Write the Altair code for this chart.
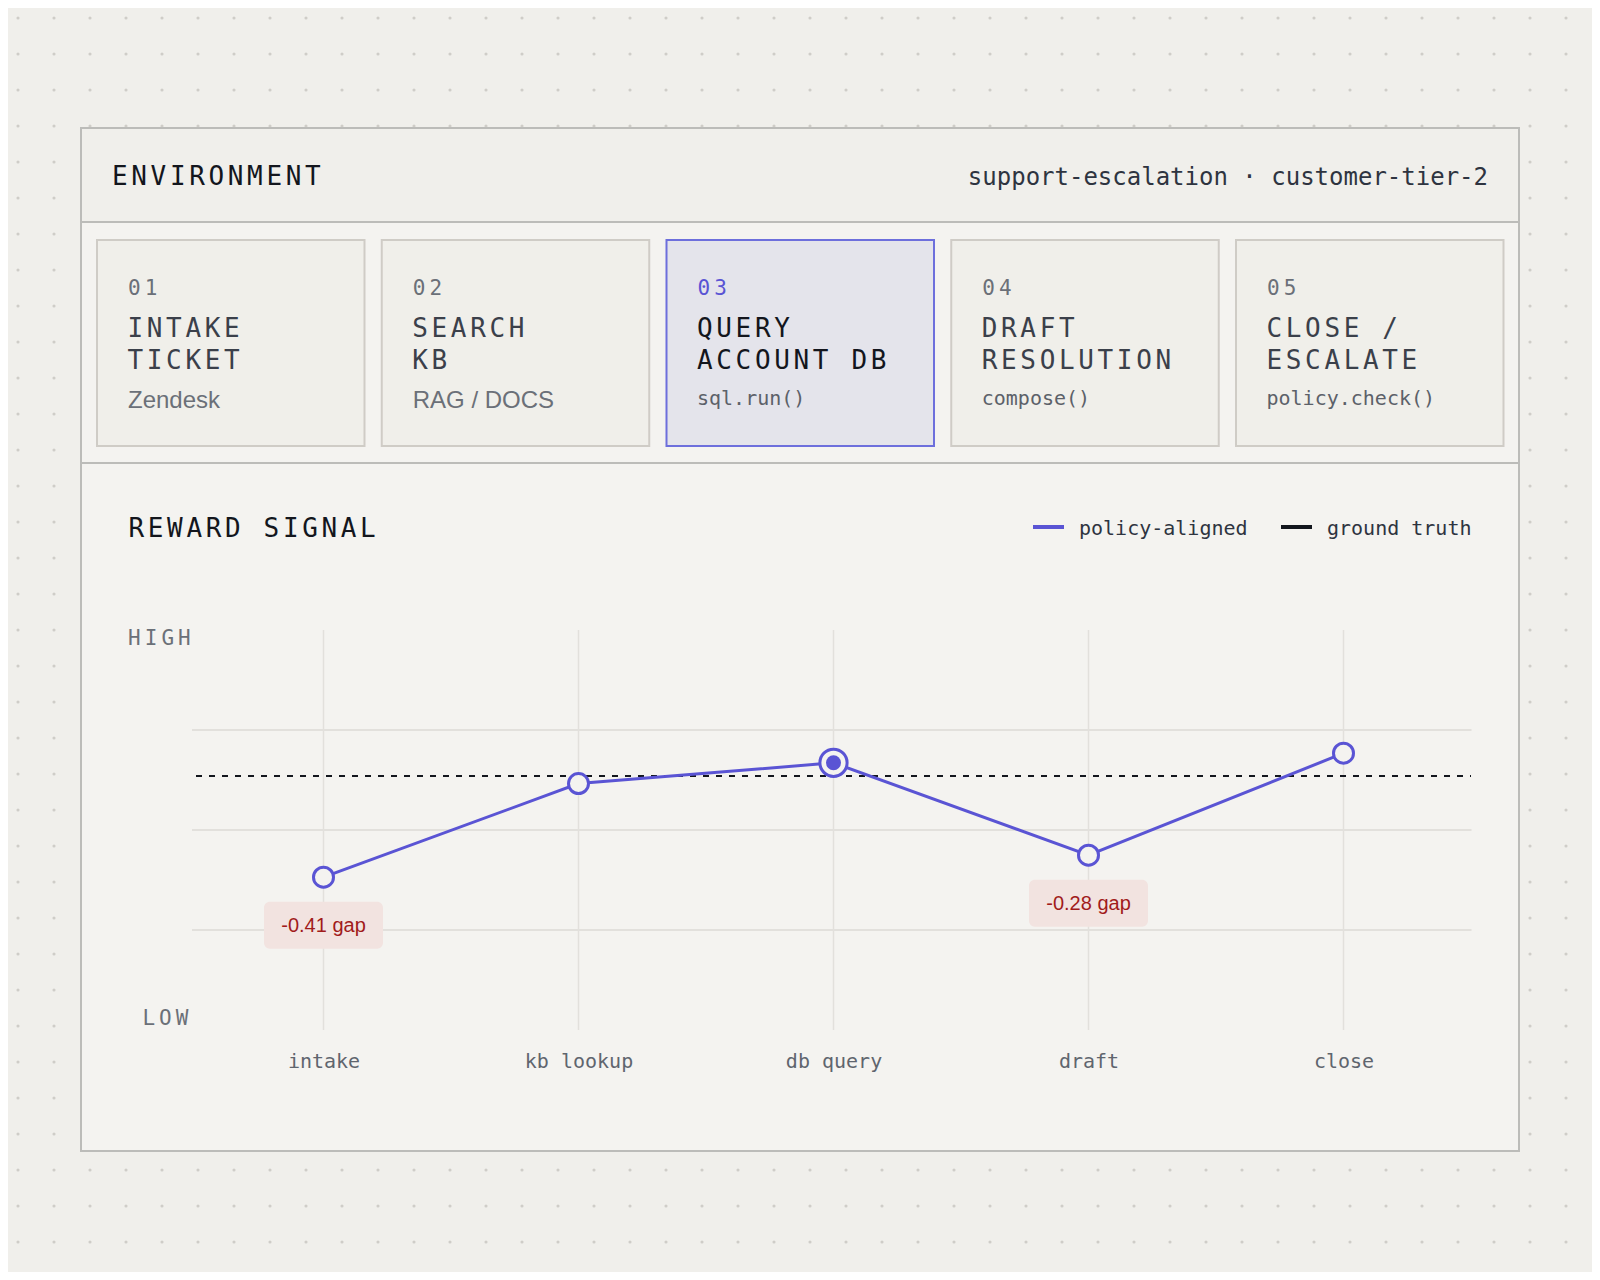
import altair as alt
import pandas as pd

# ---------------- data ----------------
stages = ["intake", "kb lookup", "db query", "draft", "close"]
policy_aligned = [0.382, 0.616, 0.668, 0.437, 0.692]
ground_truth = 0.635
gap_labels = ["-0.41 gap", "", "", "-0.28 gap", ""]
active_stage = "db query"
grid_levels = [0.25, 0.5, 0.75]

card_numbers = ["01", "02", "03", "04", "05"]
card_titles = [["INTAKE", "TICKET"], ["SEARCH", "KB"], ["QUERY", "ACCOUNT DB"],
               ["DRAFT", "RESOLUTION"], ["CLOSE /", "ESCALATE"]]
card_tools = ["Zendesk", "RAG / DOCS", "sql.run()", "compose()", "policy.check()"]
card_tool_is_code = [False, False, True, True, True]
active_card = 2

header_title = "ENVIRONMENT"
header_meta = "support-escalation \u00b7 customer-tier-2"
section_title = "REWARD SIGNAL"
axis_high = "HIGH"
axis_low = "LOW"
legend_labels = ["policy-aligned", "ground truth"]

# ---------------- style / layout ----------------
MONO = "DejaVu Sans Mono"
SANS = "Liberation Sans"
BG = "#f0efeb"
PANEL = "#f4f3f0"
CARD = "#f0efea"
CARD_ACTIVE = "#e4e4eb"
BORDER = "#bcbcb9"
CARD_BORDER = "#cfccc6"
ACTIVE_BORDER = "#6d6fdc"
PURPLE = "#5a54d4"
INK = "#13161d"
INK2 = "#3b404a"
MUTED = "#6b7078"
AXIS_TXT = "#5f656e"
GRID = "#e2e0dc"
RED = "#a11b1b"
RED_BG = "#f2e3e0"
DOT = "#cfcdc8"

W, H = 1275, 400          # plot area
OX, OY = 196, 630         # page position of plot origin
CANVAS_W, CANVAS_H = 1584, 1264


def px(x):
    return x - OX


def py(y):
    return y - OY


one = pd.DataFrame({"k": [0]})


def box(x1, y1, x2, y2, **kw):
    return alt.Chart(one).mark_rect(**kw).encode(
        x=alt.value(px(x1)), x2=alt.value(px(x2)),
        y=alt.value(py(y1)), y2=alt.value(py(y2)))


def hline(x1, x2, y, **kw):
    return alt.Chart(one).mark_rule(**kw).encode(
        x=alt.value(px(x1)), x2=alt.value(px(x2)), y=alt.value(py(y)))


# dotted background pattern
dots = pd.DataFrame([(px(18 + 36 * i), py(18 + 36 * j)) for i in range(44) for j in range(36)],
                    columns=["x", "y"])
dots_layer = alt.Chart(dots).mark_circle(size=10, color=DOT, opacity=1).encode(
    x=alt.X("x:Q", scale=None), y=alt.Y("y:Q", scale=None))

# panel
panel_top = box(81, 128, 1519, 222, fill=BG)
panel_body = box(81, 222, 1519, 1151, fill=PANEL)
panel_border = box(81, 128, 1519, 1151, fillOpacity=0, stroke=BORDER, strokeWidth=2)
div1 = hline(81, 1519, 222, color=BORDER, strokeWidth=2)
div2 = hline(81, 1519, 463, color=BORDER, strokeWidth=2)

# cards
CARD_STEP, CARD_W = 284.75, 267.5
card_rows = []
for i in range(len(card_numbers)):
    x1 = 97 + CARD_STEP * i
    act = i == active_card
    card_rows.append(dict(x1=px(x1), x2=px(x1 + CARD_W), y1=py(240), y2=py(446),
                          fill=CARD_ACTIVE if act else CARD,
                          stroke=ACTIVE_BORDER if act else CARD_BORDER))
cards_layer = alt.Chart(pd.DataFrame(card_rows)).mark_rect(strokeWidth=2).encode(
    x=alt.X("x1:Q", scale=None), x2="x2:Q",
    y=alt.Y("y1:Q", scale=None), y2="y2:Q",
    fill=alt.Fill("fill:N", scale=None), stroke=alt.Stroke("stroke:N", scale=None))

# letter-spaced monospace texts
letters = []


def spaced(text, x0, base, pitch, fs, col):
    for i, c in enumerate(text):
        if c != " ":
            letters.append(dict(ch=c, x=px(x0 + i * pitch), y=py(base), fs=fs, col=col))


spaced(header_title, 112, 185, 19.3, 26, INK)
spaced(section_title, 128.5, 537, 19.3, 26, INK)
for i in range(len(card_numbers)):
    act = i == active_card
    left = 97 + CARD_STEP * i
    spaced(card_numbers[i], left + 31, 295, 16.7, 21, PURPLE if act else MUTED)
    spaced(card_titles[i][0], left + 30.5, 337, 19.3, 26, INK if act else INK2)
    spaced(card_titles[i][1], left + 30.5, 368.5, 19.3, 26, INK if act else INK2)
spaced(axis_high, 128, 645, 16.7, 21, MUTED)
spaced(axis_low, 142.5, 1025, 16.6, 21, MUTED)

letters_layer = alt.Chart(pd.DataFrame(letters)).mark_text(
    align="left", baseline="alphabetic", font=MONO).encode(
    x=alt.X("x:Q", scale=None), y=alt.Y("y:Q", scale=None), text="ch:N",
    size=alt.Size("fs:Q", scale=None), color=alt.Color("col:N", scale=None))

# plain texts
mono_rows = []
sans_rows = []
for i in range(len(card_tools)):
    left = 97 + CARD_STEP * i
    if card_tool_is_code[i]:
        mono_rows.append(dict(t=card_tools[i], x=px(left + 30.5), y=py(405), fs=20, col="#5c6169"))
    else:
        sans_rows.append(dict(t=card_tools[i], x=px(left + 31), y=py(408), fs=24, col=MUTED))
mono_rows.append(dict(t=legend_labels[0], x=px(1079), y=py(535), fs=20, col="#2e3440"))
mono_rows.append(dict(t=legend_labels[1], x=px(1327), y=py(535), fs=20, col="#2e3440"))

mono_layer = alt.Chart(pd.DataFrame(mono_rows)).mark_text(
    align="left", baseline="alphabetic", font=MONO).encode(
    x=alt.X("x:Q", scale=None), y=alt.Y("y:Q", scale=None), text="t:N",
    size=alt.Size("fs:Q", scale=None), color=alt.Color("col:N", scale=None))
sans_layer = alt.Chart(pd.DataFrame(sans_rows)).mark_text(
    align="left", baseline="alphabetic", font=SANS).encode(
    x=alt.X("x:Q", scale=None), y=alt.Y("y:Q", scale=None), text="t:N",
    size=alt.Size("fs:Q", scale=None), color=alt.Color("col:N", scale=None))
meta_layer = alt.Chart(one).mark_text(
    align="right", baseline="alphabetic", font=MONO, fontSize=24, color="#2e3440",
    text=header_meta).encode(x=alt.value(px(1488)), y=alt.value(py(185)))

# legend swatches
leg1 = hline(1033, 1064, 527, color=PURPLE, strokeWidth=4)
leg2 = hline(1281, 1312, 527, color=INK, strokeWidth=4)

# ---------------- reward signal plot ----------------
series = pd.DataFrame({"stage": stages, "policy": policy_aligned, "gap": gap_labels})
series["active"] = [s == active_stage for s in stages]

X_ENC = alt.X("stage:N", sort=stages,
              scale=alt.Scale(type="point", padding=0.5, domain=stages),
              axis=alt.Axis(title=None, domain=False, ticks=False, tickSize=0, grid=False,
                            labelAngle=0, labelFont=MONO, labelFontSize=20,
                            labelColor=AXIS_TXT, labelPadding=37,
                            labelBaseline="alphabetic", zindex=1))
Y_SCALE = alt.Scale(domain=[0, 1], nice=False, zero=False)


def Y(field):
    return alt.Y(f"{field}:Q", scale=Y_SCALE, axis=None, title=None)


vgrid = alt.Chart(pd.DataFrame({"stage": stages})).mark_rule(
    color=GRID, strokeWidth=1.5).encode(x=X_ENC, y=alt.value(0), y2=alt.value(H))
hgrid = alt.Chart(pd.DataFrame({"g": grid_levels})).mark_rule(
    color=GRID, strokeWidth=2).encode(y=Y("g"), x=alt.value(-4), x2=alt.value(W + 0.5))
gt_rule = alt.Chart(pd.DataFrame({"gt": [ground_truth]})).mark_rule(
    color=INK, strokeWidth=2, strokeDash=[6, 7]).encode(
    y=Y("gt"), x=alt.value(0), x2=alt.value(W))
line = alt.Chart(series).mark_line(color=PURPLE, strokeWidth=3).encode(x=X_ENC, y=Y("policy"))

RR = ("M-0.9,-0.395H0.9A0.1,0.1,0,0,1,1,-0.295V0.295A0.1,0.1,0,0,1,0.9,0.395"
      "H-0.9A0.1,0.1,0,0,1,-1,0.295V-0.295A0.1,0.1,0,0,1,-0.9,-0.395Z")
gap_boxes = alt.Chart(series).transform_filter("datum.gap != ''").mark_point(
    shape=RR, size=119 ** 2, filled=True, fill=RED_BG, opacity=1, strokeWidth=0,
    yOffset=48).encode(x=X_ENC, y=Y("policy"))
gap_text = alt.Chart(series).transform_filter("datum.gap != ''").mark_text(
    font=SANS, fontSize=20, color=RED, baseline="middle", yOffset=49).encode(
    x=X_ENC, y=Y("policy"), text="gap:N")

pts = alt.Chart(series).transform_filter("!datum.active").mark_point(
    shape="circle", filled=True, fill=PANEL, stroke=PURPLE, strokeWidth=3,
    size=400, opacity=1).encode(x=X_ENC, y=Y("policy"))
ring = alt.Chart(series).transform_filter("datum.active").mark_point(
    shape="circle", filled=True, fill=PANEL, stroke=PURPLE, strokeWidth=3,
    size=740, opacity=1).encode(x=X_ENC, y=Y("policy"))
core = alt.Chart(series).transform_filter("datum.active").mark_point(
    shape="circle", filled=True, fill=PURPLE, strokeWidth=0,
    size=225, opacity=1).encode(x=X_ENC, y=Y("policy"))

chart = alt.layer(
    dots_layer, panel_top, panel_body, panel_border, div1, div2,
    cards_layer, letters_layer, mono_layer, sans_layer, meta_layer, leg1, leg2,
    vgrid, hgrid, gt_rule, line, gap_boxes, gap_text, pts, ring, core,
).properties(
    width=W, height=H,
    padding={"left": OX - 8, "top": OY - 8, "right": CANVAS_W - (OX - 8) - W,
             "bottom": CANVAS_H - (OY - 8) - H},
    autosize=alt.AutoSizeParams(type="none"),
    background=BG,
).configure_view(strokeWidth=0)

chart.save("out.html", embed_options={"renderer": "svg", "actions": False})
